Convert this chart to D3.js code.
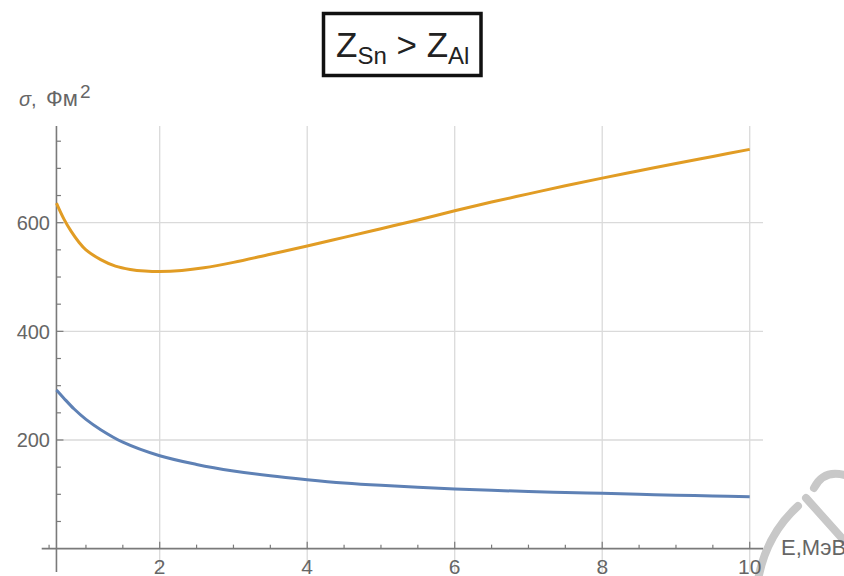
<!DOCTYPE html>
<html>
<head>
<meta charset="utf-8">
<script src="https://cdn.jsdelivr.net/npm/d3@7"></script>
<style>
  html, body { margin: 0; padding: 0; background: #fff; }
  svg { display: block; }
  text { font-family: "Liberation Sans", Arial, sans-serif; }
</style>
</head>
<body>
<svg id="chart" width="844" height="576"></svg>
<script>
// ---- data ----
const energySn = [0.6, 0.7, 0.8, 0.9, 1.0, 1.2, 1.4, 1.6, 1.8, 2.0, 2.3, 2.6, 3.0, 3.5, 4.0, 4.5, 5.0, 5.5, 6.0, 6.5, 7.0, 7.5, 8.0, 8.5, 9.0, 9.5, 10.0];
const sigmaSn = [636, 607, 584, 565, 550, 532, 520, 514, 511, 510, 512, 517, 527, 542, 557, 573, 589, 605, 622, 638, 653, 668, 682, 695.5, 709, 722, 735];
const energyAl = [0.6, 0.7, 0.84, 1.0, 1.2, 1.5, 2.0, 2.5, 3.0, 3.5, 4.0, 4.5, 5.0, 5.5, 6.0, 6.5, 7.0, 7.5, 8.0, 8.5, 9.0, 9.5, 10.0];
const sigmaAl = [292, 277, 257, 238, 219, 196, 171, 155, 143, 134, 127, 121, 116.5, 113, 110, 107.5, 105, 103.5, 102, 100, 98.5, 97, 95.5];
const xMajorTicks = [2, 4, 6, 8, 10];
const yMajorTicks = [200, 400, 600];
const xLabel = "E,МэВ";
const yLabelMain = "σ";
const yLabelComma = ",";
const yLabelUnit = "Фм";
const yLabelSup = "2";

const svg = d3.select("#chart");

const x = d3.scaleLinear().domain([0.4, 10.18]).range([41.7, 763]);
const y = d3.scaleLinear().domain([-43, 778]).range([572, 126]);
const xOrigin = 0.6, yOrigin = 0;

const axisColor = "#7a7a7a", gridColor = "#dadada", labelColor = "#666666";

// grid
const g = svg.append("g");
g.selectAll(".vg").data(xMajorTicks).join("line")
  .attr("x1", d => x(d)).attr("x2", d => x(d))
  .attr("y1", y(778)).attr("y2", y(-43))
  .attr("stroke", gridColor).attr("stroke-width", 1.3);
g.selectAll(".hg").data(yMajorTicks).join("line")
  .attr("x1", x(xOrigin)).attr("x2", x(10.18))
  .attr("y1", d => y(d)).attr("y2", d => y(d))
  .attr("stroke", gridColor).attr("stroke-width", 1.3);

// watermark (faint)
const wm = svg.append("g").attr("fill", "none").attr("stroke", "#c8c8c8").attr("stroke-width", 8).attr("stroke-linecap", "round");
wm.append("path").attr("d", "M758,580 Q766,535 798,506");
wm.append("path").attr("d", "M806,498 L848,545");
wm.append("path").attr("d", "M814,488 Q824,468 848,476");

// axes lines
svg.append("line").attr("x1", x(xOrigin)).attr("x2", x(xOrigin))
  .attr("y1", y(778)).attr("y2", y(-43)).attr("stroke", axisColor).attr("stroke-width", 1.6);
svg.append("line").attr("x1", x(0.4)).attr("x2", x(10.18))
  .attr("y1", y(yOrigin)).attr("y2", y(yOrigin)).attr("stroke", axisColor).attr("stroke-width", 1.6);

// ticks
const xMinor = d3.range(0.5, 10.01, 0.5);
svg.append("g").selectAll("line").data(xMinor).join("line")
  .attr("x1", d => x(d)).attr("x2", d => x(d))
  .attr("y1", y(yOrigin)).attr("y2", d => y(yOrigin) - (xMajorTicks.includes(d) ? 7 : 4))
  .attr("stroke", axisColor).attr("stroke-width", 1.2);
const yMinor = d3.range(50, 751, 50);
svg.append("g").selectAll("line").data(yMinor).join("line")
  .attr("x1", x(xOrigin)).attr("x2", d => x(xOrigin) + (yMajorTicks.includes(d) ? 7 : 4.5))
  .attr("y1", d => y(d)).attr("y2", d => y(d))
  .attr("stroke", axisColor).attr("stroke-width", 1.2);

// tick labels
svg.append("g").selectAll("text").data(xMajorTicks).join("text")
  .attr("x", d => x(d)).attr("y", 574)
  .attr("text-anchor", "middle").attr("font-size", 21).attr("fill", labelColor)
  .text(d => d);
svg.append("g").selectAll("text").data(yMajorTicks).join("text")
  .attr("x", 50).attr("y", d => y(d) + 7.5)
  .attr("text-anchor", "end").attr("font-size", 20).attr("fill", labelColor)
  .text(d => d);

// axis labels
svg.append("text").attr("x", 781).attr("y", 555).attr("font-size", 22).attr("fill", labelColor).text(xLabel);
const yl = svg.append("text").attr("y", 106).attr("font-size", 20).attr("fill", labelColor);
yl.append("tspan").attr("x", 19).attr("font-style", "italic").text(yLabelMain);
yl.append("tspan").attr("x", 31).text(yLabelComma);
yl.append("tspan").attr("x", 46).attr("font-size", 22).text(yLabelUnit);
yl.append("tspan").attr("x", 80).attr("font-size", 19).attr("dy", -8).text(yLabelSup);

// curves
const line = d3.line().x(d => x(d[0])).y(d => y(d[1])).curve(d3.curveCatmullRom.alpha(0.5));
svg.append("path").datum(energyAl.map((e, i) => [e, sigmaAl[i]]))
  .attr("d", line).attr("fill", "none").attr("stroke", "#5E81B5").attr("stroke-width", 3);
svg.append("path").datum(energySn.map((e, i) => [e, sigmaSn[i]]))
  .attr("d", line).attr("fill", "none").attr("stroke", "#E19C24").attr("stroke-width", 3);

// title box
svg.append("rect").attr("x", 323.5).attr("y", 13.5).attr("width", 157.5).attr("height", 62)
  .attr("fill", "#fff").attr("stroke", "#111").attr("stroke-width", 3.5);
const t = svg.append("text").attr("x", 336).attr("y", 57).attr("font-size", 35).attr("fill", "#222");
t.append("tspan").text("Z");
t.append("tspan").attr("font-size", 24).attr("dy", 6.5).text("Sn");
t.append("tspan").attr("dy", -6.5).text(" > Z");
t.append("tspan").attr("font-size", 24).attr("dy", 6.5).text("Al");
</script>
</body>
</html>
